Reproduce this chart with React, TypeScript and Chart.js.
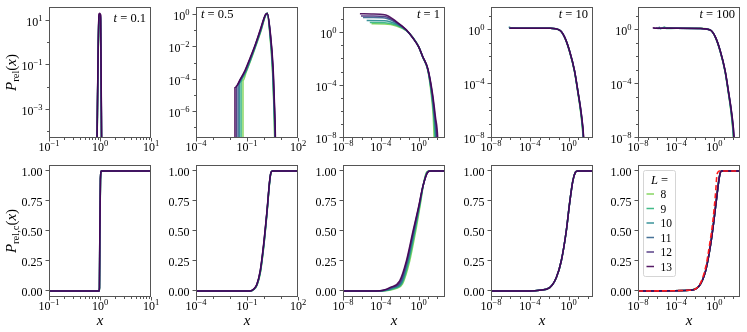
import React, { useEffect, useRef } from 'react';
import { Chart, registerables } from 'chart.js';

Chart.register(...registerables);

// ---------------- data ----------------
const L_VALUES = [8, 9, 10, 11, 12, 13];
const TIME_LABELS = ['0.1', '0.5', '1', '10', '100'];

// P_rel(x), t = 0.1 : [x, y] per L (8..13)
const PDF_T01 = [
  [[0.862, 1e-6], [0.953, 11], [0.975, 13], [1.02, 10.5], [1.078, 1e-6]],
  [[0.86, 1e-6], [0.954, 12.5], [0.975, 14.5], [1.022, 12], [1.08, 1e-6]],
  [[0.859, 1e-6], [0.955, 14], [0.975, 16], [1.024, 13.5], [1.081, 1e-6]],
  [[0.858, 1e-6], [0.955, 16], [0.975, 18], [1.026, 15], [1.082, 1e-6]],
  [[0.857, 1e-6], [0.956, 18], [0.975, 20], [1.028, 17], [1.083, 1e-6]],
  [[0.855, 1e-6], [0.956, 19.5], [0.975, 21.5], [1.03, 18.5], [1.085, 1e-6]],
];
const CDF_T01 = [
  [[0.1, 0], [0.962, 0], [0.977, 0.03], [0.992, 0.42], [1.022, 0.92], [1.062, 1], [10, 1]],
  [[0.1, 0], [0.962, 0], [0.977, 0.03], [0.991, 0.43], [1.021, 0.925], [1.061, 1], [10, 1]],
  [[0.1, 0], [0.961, 0], [0.976, 0.03], [0.991, 0.44], [1.021, 0.93], [1.061, 1], [10, 1]],
  [[0.1, 0], [0.961, 0], [0.976, 0.03], [0.99, 0.44], [1.02, 0.93], [1.06, 1], [10, 1]],
  [[0.1, 0], [0.96, 0], [0.975, 0.03], [0.99, 0.45], [1.02, 0.93], [1.06, 1], [10, 1]],
  [[0.1, 0], [0.96, 0], [0.975, 0.03], [0.99, 0.45], [1.02, 0.93], [1.06, 1], [10, 1]],
];

// t = 0.5
const PDF_T05 = [
  [[0.058, 1e-10], [0.058, 9e-5], [0.09, 3e-4], [0.17, 1.7e-3], [0.325, 0.0115], [0.65, 0.095], [1.24, 0.94], [1.55, 1.3], [2.2, 0.065], [3.06, 6e-4], [3.68, 5.6e-6], [4.2, 3e-8], [4.5, 1e-10]],
  [[0.045, 1e-10], [0.045, 7e-5], [0.05, 1e-4], [0.088, 3.2e-4], [0.166, 1.8e-3], [0.32, 0.012], [0.64, 0.1], [1.23, 0.95], [1.55, 1.28], [2.24, 0.068], [3.13, 6e-4], [3.75, 5.6e-6], [4.3, 3e-8], [4.6, 1e-10]],
  [[0.036, 1e-10], [0.036, 6e-5], [0.045, 1e-4], [0.085, 3.4e-4], [0.162, 1.9e-3], [0.315, 0.0125], [0.63, 0.105], [1.22, 0.96], [1.55, 1.27], [2.27, 0.07], [3.2, 6e-4], [3.82, 5.6e-6], [4.4, 3e-8], [4.7, 1e-10]],
  [[0.03, 1e-10], [0.03, 5e-5], [0.042, 1e-4], [0.082, 3.6e-4], [0.158, 2e-3], [0.31, 0.013], [0.62, 0.11], [1.21, 0.97], [1.56, 1.26], [2.3, 0.073], [3.28, 6e-4], [3.9, 5.6e-6], [4.5, 3e-8], [4.8, 1e-10]],
  [[0.024, 1e-10], [0.024, 4e-5], [0.04, 1e-4], [0.08, 3.8e-4], [0.155, 2.1e-3], [0.305, 0.0135], [0.61, 0.115], [1.2, 0.98], [1.56, 1.25], [2.33, 0.075], [3.35, 6e-4], [3.98, 5.6e-6], [4.6, 3e-8], [4.9, 1e-10]],
  [[0.0195, 1e-10], [0.0195, 3.2e-5], [0.039, 1e-4], [0.078, 4e-4], [0.152, 2.2e-3], [0.3, 0.014], [0.6, 0.12], [1.2, 1.0], [1.57, 1.24], [2.37, 0.077], [3.43, 6e-4], [4.07, 5.6e-6], [4.7, 3e-8], [5.0, 1e-10]],
];
const CDF_T05 = [
  [[1e-4, 0], [0.16, 0], [0.255, 0.013], [0.4, 0.052], [0.625, 0.16], [0.98, 0.375], [1.53, 0.66], [2.18, 0.915], [2.62, 0.99], [3.2, 1], [100, 1]],
  [[1e-4, 0], [0.158, 0], [0.252, 0.013], [0.395, 0.053], [0.62, 0.162], [0.975, 0.378], [1.525, 0.662], [2.175, 0.916], [2.62, 0.99], [3.2, 1], [100, 1]],
  [[1e-4, 0], [0.156, 0], [0.25, 0.013], [0.39, 0.054], [0.615, 0.164], [0.97, 0.381], [1.52, 0.664], [2.17, 0.917], [2.61, 0.99], [3.2, 1], [100, 1]],
  [[1e-4, 0], [0.154, 0], [0.247, 0.014], [0.387, 0.055], [0.61, 0.166], [0.962, 0.384], [1.515, 0.666], [2.165, 0.918], [2.61, 0.99], [3.2, 1], [100, 1]],
  [[1e-4, 0], [0.152, 0], [0.243, 0.014], [0.384, 0.055], [0.605, 0.168], [0.955, 0.387], [1.505, 0.668], [2.155, 0.919], [2.6, 0.99], [3.2, 1], [100, 1]],
  [[1e-4, 0], [0.15, 0], [0.24, 0.014], [0.38, 0.056], [0.6, 0.17], [0.95, 0.39], [1.5, 0.67], [2.15, 0.92], [2.6, 0.99], [3.2, 1], [100, 1]],
];

// t = 1
const PDF_T1 = [
  [[1.05e-5, 5.2], [2.6e-4, 5.05], [4.5e-3, 3.6], [0.051, 1.55], [0.26, 0.46], [1, 0.098], [2.8, 0.0145], [9.5, 1.5e-3], [22, 2.1e-5], [36, 4e-7], [44, 1e-8], [50, 1e-10]],
  [[6.9e-6, 6.6], [2.6e-4, 6.4], [4.5e-3, 4.2], [0.051, 1.6], [0.26, 0.45], [1, 0.097], [2.8, 0.0148], [9.5, 1.6e-3], [24, 2.2e-5], [42, 4e-7], [55, 1e-8], [65, 1e-10]],
  [[3.2e-6, 9.3], [2.6e-4, 9.0], [4.5e-3, 5.0], [0.051, 1.65], [0.26, 0.44], [1, 0.096], [2.8, 0.015], [9.5, 1.7e-3], [25, 2.3e-5], [46, 4e-7], [66, 1e-8], [80, 1e-10]],
  [[1.3e-6, 15.8], [1e-5, 15.6], [2.6e-4, 14.5], [4.5e-3, 6.0], [0.051, 1.7], [0.26, 0.43], [1, 0.095], [2.8, 0.0155], [9.5, 1.8e-3], [27, 2.4e-5], [50, 4e-7], [78, 1e-8], [95, 1e-10]],
  [[8e-7, 21], [1e-5, 20.5], [2.6e-4, 18.5], [4.5e-3, 6.8], [0.051, 1.75], [0.26, 0.42], [1, 0.094], [2.8, 0.016], [9.5, 1.9e-3], [28, 2.5e-5], [55, 4e-7], [90, 1e-8], [110, 1e-10]],
  [[6.2e-7, 30.5], [1e-5, 29], [2.6e-4, 25.6], [4.5e-3, 7.8], [0.051, 1.8], [0.26, 0.41], [1, 0.093], [2.8, 0.016], [9.5, 2e-3], [30, 2.5e-5], [62, 4e-7], [107, 1e-8], [130, 1e-10]],
];
const CDF_T1 = [
  [[1e-8, 0], [1.4e-4, 0], [8e-4, 0.006], [4e-3, 0.02], [2e-2, 0.06], [0.115, 0.25], [0.5, 0.5], [1.6, 0.73], [3.5, 0.9], [7, 0.99], [14, 1], [700, 1]],
  [[1e-8, 0], [1e-4, 0], [5.5e-4, 0.006], [2.8e-3, 0.022], [1.8e-2, 0.065], [0.094, 0.25], [0.42, 0.5], [1.4, 0.72], [3.3, 0.89], [7.8, 0.99], [15, 1], [700, 1]],
  [[1e-8, 0], [7e-5, 0], [3.8e-4, 0.006], [2e-3, 0.024], [1.6e-2, 0.07], [0.077, 0.25], [0.36, 0.5], [1.26, 0.715], [3.1, 0.88], [8.5, 0.99], [17, 1], [700, 1]],
  [[1e-8, 0], [5e-5, 0], [2.8e-4, 0.006], [1.5e-3, 0.026], [1.4e-2, 0.075], [0.066, 0.25], [0.32, 0.5], [1.16, 0.71], [3.0, 0.875], [8.9, 0.99], [18, 1], [700, 1]],
  [[1e-8, 0], [4e-5, 0], [2.2e-4, 0.006], [1.2e-3, 0.028], [1.2e-2, 0.08], [0.058, 0.25], [0.29, 0.5], [1.08, 0.705], [2.9, 0.872], [9.2, 0.99], [19, 1], [700, 1]],
  [[1e-8, 0], [3e-5, 0], [1.8e-4, 0.006], [1e-3, 0.03], [1e-2, 0.084], [0.051, 0.25], [0.26, 0.5], [1, 0.7], [2.8, 0.87], [9.5, 0.99], [20, 1], [700, 1]],
];

// t = 10
const PDF_T10 = [
  [[9e-7, 1.75], [1.2e-6, 1.5], [1e-5, 1.47], [1e-3, 1.46], [0.011, 1.44], [0.11, 1.06], [0.36, 0.33], [1.17, 0.03], [3.8, 1e-3], [8.3, 3e-5], [18, 6e-7], [30, 1e-8], [38, 1e-10]],
  [[8.5e-7, 1.6], [1.1e-6, 1.48], [1e-5, 1.47], [1e-3, 1.46], [0.011, 1.44], [0.112, 1.06], [0.37, 0.33], [1.19, 0.03], [3.85, 1e-3], [8.5, 3e-5], [18.5, 6e-7], [31, 1e-8], [40, 1e-10]],
  [[7e-7, 1.95], [9e-7, 1.55], [1e-5, 1.48], [1e-3, 1.47], [0.011, 1.45], [0.113, 1.05], [0.37, 0.32], [1.2, 0.03], [3.9, 1e-3], [8.6, 3e-5], [19, 6e-7], [32, 1e-8], [41, 1e-10]],
  [[8e-7, 1.55], [1e-5, 1.48], [1e-3, 1.47], [0.011, 1.45], [0.114, 1.05], [0.375, 0.32], [1.21, 0.03], [3.95, 1e-3], [8.7, 3e-5], [19.5, 6e-7], [33, 1e-8], [43, 1e-10]],
  [[8e-7, 1.5], [1e-5, 1.48], [1e-3, 1.47], [0.011, 1.45], [0.115, 1.05], [0.38, 0.32], [1.22, 0.03], [4, 1e-3], [8.8, 3e-5], [20, 6e-7], [34, 1e-8], [44, 1e-10]],
  [[7.9e-7, 1.5], [1e-5, 1.48], [1e-3, 1.47], [0.011, 1.45], [0.115, 1.05], [0.38, 0.32], [1.23, 0.03], [4, 1e-3], [8.9, 3e-5], [20, 6e-7], [35, 1e-8], [45, 1e-10]],
];
const CDF_T10 = [
  [[1e-8, 0], [1e-4, 0.0005], [1e-3, 0.006], [0.011, 0.028], [0.053, 0.11], [0.172, 0.25], [0.565, 0.5], [1.22, 0.73], [2.65, 0.92], [4.9, 0.99], [8, 1], [400, 1]],
  [[1e-8, 0], [1e-4, 0.0005], [1e-3, 0.006], [0.011, 0.028], [0.053, 0.11], [0.171, 0.25], [0.563, 0.5], [1.225, 0.73], [2.66, 0.92], [4.92, 0.99], [8, 1], [400, 1]],
  [[1e-8, 0], [1e-4, 0.0005], [1e-3, 0.006], [0.011, 0.028], [0.052, 0.11], [0.171, 0.25], [0.562, 0.5], [1.228, 0.73], [2.68, 0.92], [4.95, 0.99], [8, 1], [400, 1]],
  [[1e-8, 0], [1e-4, 0.0005], [1e-3, 0.006], [0.011, 0.028], [0.052, 0.11], [0.17, 0.25], [0.561, 0.5], [1.23, 0.73], [2.69, 0.92], [4.97, 0.99], [8, 1], [400, 1]],
  [[1e-8, 0], [1e-4, 0.0005], [1e-3, 0.006], [0.011, 0.028], [0.052, 0.11], [0.17, 0.25], [0.56, 0.5], [1.23, 0.73], [2.7, 0.92], [5, 0.99], [8, 1], [400, 1]],
  [[1e-8, 0], [1e-4, 0.0005], [1e-3, 0.006], [0.011, 0.028], [0.052, 0.11], [0.17, 0.25], [0.56, 0.5], [1.23, 0.73], [2.7, 0.92], [5, 0.99], [8, 1], [400, 1]],
];

// t = 100
const PDF_T100 = [
  [[1e-5, 1.7], [1.5e-5, 1.45], [2.5e-5, 1.6], [1e-4, 1.47], [0.035, 1.44], [0.4, 1.05], [1.28, 0.32], [4.05, 0.03], [13, 1e-3], [28.5, 3e-5], [60, 6e-7], [102, 1e-8], [136, 1e-10]],
  [[4e-6, 1.6], [6e-6, 1.85], [9e-6, 1.4], [1e-4, 1.46], [0.035, 1.43], [0.4, 1.05], [1.29, 0.32], [4.1, 0.03], [13.2, 1e-3], [29, 3e-5], [62, 6e-7], [106, 1e-8], [140, 1e-10]],
  [[1.5e-6, 1.9], [2.2e-6, 1.35], [3.5e-6, 1.55], [1e-4, 1.46], [0.035, 1.43], [0.4, 1.05], [1.3, 0.32], [4.15, 0.03], [13.4, 1e-3], [29.5, 3e-5], [64, 6e-7], [110, 1e-8], [144, 1e-10]],
  [[8e-7, 1.65], [1.2e-6, 1.4], [2e-6, 1.5], [1e-4, 1.45], [0.035, 1.43], [0.4, 1.05], [1.31, 0.32], [4.2, 0.03], [13.6, 1e-3], [30, 3e-5], [66, 6e-7], [114, 1e-8], [148, 1e-10]],
  [[4e-7, 1.5], [1e-6, 1.46], [1e-4, 1.45], [0.035, 1.43], [0.4, 1.05], [1.32, 0.32], [4.25, 0.03], [13.8, 1e-3], [30.5, 3e-5], [68, 6e-7], [118, 1e-8], [152, 1e-10]],
  [[3.5e-7, 1.6], [1e-6, 1.45], [1e-4, 1.45], [0.035, 1.43], [0.4, 1.05], [1.33, 0.32], [4.3, 0.03], [14, 1e-3], [31, 3e-5], [70, 6e-7], [122, 1e-8], [158, 1e-10]],
];
const CDF_T100 = [
  [[1e-8, 0], [2.3e-3, 0.006], [0.025, 0.041], [0.126, 0.172], [0.42, 0.392], [0.92, 0.592], [1.98, 0.812], [3.55, 0.96], [5.8, 1], [600, 1]],
  [[1e-8, 0], [2.3e-3, 0.006], [0.025, 0.041], [0.126, 0.171], [0.42, 0.391], [0.925, 0.591], [1.99, 0.811], [3.57, 0.96], [5.85, 1], [600, 1]],
  [[1e-8, 0], [2.3e-3, 0.006], [0.025, 0.04], [0.126, 0.17], [0.42, 0.39], [0.93, 0.59], [2.0, 0.81], [3.6, 0.96], [5.9, 1], [600, 1]],
  [[1e-8, 0], [2.3e-3, 0.006], [0.025, 0.04], [0.126, 0.17], [0.42, 0.39], [0.93, 0.59], [2.0, 0.81], [3.6, 0.96], [5.9, 1], [600, 1]],
  [[1e-8, 0], [2.3e-3, 0.006], [0.025, 0.04], [0.126, 0.17], [0.42, 0.39], [0.93, 0.59], [2.0, 0.81], [3.6, 0.96], [5.9, 1], [600, 1]],
  [[1e-8, 0], [2.3e-3, 0.006], [0.025, 0.04], [0.126, 0.17], [0.42, 0.39], [0.93, 0.59], [2.0, 0.81], [3.6, 0.96], [5.9, 1], [600, 1]],
];
// red dashed reference curve (t = 100)
const CDF_T100_FIT = [[1e-8, 0], [2.3e-3, 0.006], [0.025, 0.045], [0.126, 0.2], [0.33, 0.39], [0.71, 0.58], [1.35, 0.81], [2.0, 0.975], [3.6, 1], [600, 1]];

// axis ranges and ticks
const X_RANGES = [[0.1, 10], [1e-4, 1e2], [1e-8, 631], [1e-8, 316], [1e-8, 500]];
const Y_RANGES_PDF = [[5.5e-5, 41], [2.5e-8, 3.1], [1e-8, 100], [1e-8, 56], [1e-8, 56]];
const Y_RANGE_CDF = [-0.05, 1.05];
const X_MAJOR_EXP = [[-1, 0, 1], [-4, -1, 2], [-8, -4, 0], [-8, -4, 0], [-8, -4, 0]];
const X_MINOR = [
  [0.2, 0.3, 0.4, 0.5, 0.6, 0.7, 0.8, 0.9, 2, 3, 4, 5, 6, 7, 8, 9],
  [1e-3, 1e-2, 1, 10],
  [1e-7, 1e-6, 1e-5, 1e-3, 1e-2, 1e-1, 10, 100],
  [1e-7, 1e-6, 1e-5, 1e-3, 1e-2, 1e-1, 10, 100],
  [1e-7, 1e-6, 1e-5, 1e-3, 1e-2, 1e-1, 10, 100],
];
const Y_MAJOR_EXP = [[1, -1, -3], [0, -2, -4, -6], [0, -4, -8], [0, -4, -8], [0, -4, -8]];
const Y_MINOR = [
  [1, 1e-2, 1e-4],
  [1e-1, 1e-3, 1e-5, 1e-7],
  [100, 10, 1e-1, 1e-2, 1e-3, 1e-5, 1e-6, 1e-7],
  [10, 1e-1, 1e-2, 1e-3, 1e-5, 1e-6, 1e-7],
  [10, 1e-1, 1e-2, 1e-3, 1e-5, 1e-6, 1e-7],
];
const CDF_TICKS = [0, 0.25, 0.5, 0.75, 1.0];

const PDF_DATA = [PDF_T01, PDF_T05, PDF_T1, PDF_T10, PDF_T100];
const CDF_DATA = [CDF_T01, CDF_T05, CDF_T1, CDF_T10, CDF_T100];

// ---------------- style / layout ----------------
const W = 747;
const H = 332;
const COL_LEFT = [49, 196, 343, 491, 638];
const PLOT_W = 102;
const ROW_TOP = [7, 165];
const ROW_H = [131, 132];
const FONT = '"Liberation Serif", "Times New Roman", "DejaVu Serif", serif';
const AXIS_COLOR = '#555';
const L_COLORS = [
  'rgba(122,209,81,0.9)',
  'rgba(47,180,124,0.9)',
  'rgba(36,135,142,0.9)',
  'rgba(51,99,141,0.9)',
  'rgba(71,45,123,0.9)',
  'rgba(68,1,84,0.9)',
];
const TITLE_POS = [
  { align: 'right', y: 22 },
  { align: 'left', y: 18 },
  { align: 'right', y: 18 },
  { align: 'right', y: 18 },
  { align: 'right', y: 18 },
];

type Piece = { t: string; f: string; dy?: number };

function drawPieces(ctx: CanvasRenderingContext2D, pieces: Piece[], x: number, y: number, align: string) {
  let total = 0;
  const widths = pieces.map((p) => {
    ctx.font = p.f;
    const w = ctx.measureText(p.t).width;
    total += w;
    return w;
  });
  let cx = align === 'center' ? x - total / 2 : align === 'right' ? x - total : x;
  ctx.textAlign = 'left';
  ctx.textBaseline = 'alphabetic';
  pieces.forEach((p, i) => {
    ctx.font = p.f;
    ctx.fillText(p.t, cx, y + (p.dy || 0));
    cx += widths[i];
  });
}

function powPieces(e: number): Piece[] {
  const s = e < 0 ? '\u2212' + Math.abs(e) : String(e);
  return [
    { t: '10', f: `12px ${FONT}` },
    { t: s, f: `8.5px ${FONT}`, dy: -5 },
  ];
}

type PanelSpec = {
  col: number;
  row: number;
};

function makeDeco(spec: PanelSpec) {
  const { col, row } = spec;
  return {
    id: `deco_${row}_${col}`,
    afterDraw(chart: any) {
      const ctx: CanvasRenderingContext2D = chart.ctx;
      const xs = chart.scales.x;
      const ys = chart.scales.y;
      const { left, top, right, bottom } = chart.chartArea;
      ctx.save();
      ctx.strokeStyle = AXIS_COLOR;
      ctx.lineWidth = 1;
      ctx.strokeRect(left + 0.5, top + 0.5, right - left - 1, bottom - top - 1);
      const line = (x1: number, y1: number, x2: number, y2: number) => {
        ctx.beginPath();
        ctx.moveTo(x1, y1);
        ctx.lineTo(x2, y2);
        ctx.stroke();
      };
      // x ticks
      X_MAJOR_EXP[col].forEach((e) => {
        const px = Math.round(xs.getPixelForValue(Math.pow(10, e))) + 0.5;
        line(px, bottom, px, bottom + 3.5);
      });
      X_MINOR[col].forEach((v) => {
        const px = Math.round(xs.getPixelForValue(v)) + 0.5;
        line(px, bottom, px, bottom + 2);
      });
      // y ticks
      if (row === 0) {
        Y_MAJOR_EXP[col].forEach((e) => {
          const py = Math.round(ys.getPixelForValue(Math.pow(10, e))) - 0.5;
          line(left, py, left - 3.5, py);
        });
        Y_MINOR[col].forEach((v) => {
          const py = Math.round(ys.getPixelForValue(v)) - 0.5;
          if (py > top && py < bottom) line(left, py, left - 2, py);
        });
      } else {
        CDF_TICKS.forEach((v) => {
          const py = Math.round(ys.getPixelForValue(v)) - 0.5;
          line(left, py, left - 3.5, py);
        });
      }
      ctx.fillStyle = '#000';
      // x tick labels
      X_MAJOR_EXP[col].forEach((e) => {
        const px = xs.getPixelForValue(Math.pow(10, e));
        drawPieces(ctx, powPieces(e), px, bottom + 13, 'center');
      });
      // y tick labels
      if (row === 0) {
        Y_MAJOR_EXP[col].forEach((e) => {
          const py = ys.getPixelForValue(Math.pow(10, e));
          drawPieces(ctx, powPieces(e), left - 6.5, py + 5, 'right');
        });
        // title
        const tp = TITLE_POS[col];
        const pieces: Piece[] = [
          { t: 't', f: `italic 12.5px ${FONT}` },
          { t: ' = ' + TIME_LABELS[col], f: `12.5px ${FONT}` },
        ];
        if (tp.align === 'right') drawPieces(ctx, pieces, right - 5, tp.y, 'right');
        else drawPieces(ctx, pieces, left + 5, tp.y, 'left');
      } else {
        CDF_TICKS.forEach((v) => {
          const py = ys.getPixelForValue(v);
          drawPieces(ctx, [{ t: v.toFixed(2), f: `12px ${FONT}` }], left - 6.5, py + 4.5, 'right');
        });
        // x label
        drawPieces(ctx, [{ t: 'x', f: `italic 15px ${FONT}` }], (left + right) / 2, 325, 'center');
      }
      // y axis label
      if (col === 0) {
        const sub = row === 0 ? 'rel' : 'rel,c';
        ctx.save();
        ctx.translate(16, (top + bottom) / 2);
        ctx.rotate(-Math.PI / 2);
        drawPieces(
          ctx,
          [
            { t: 'P', f: `italic 15px ${FONT}` },
            { t: sub, f: `10.5px ${FONT}`, dy: 3 },
            { t: '(', f: `15px ${FONT}` },
            { t: 'x', f: `italic 15px ${FONT}` },
            { t: ')', f: `15px ${FONT}` },
          ],
          0,
          0,
          'center'
        );
        ctx.restore();
      }
      // legend
      if (row === 1 && col === 4) {
        const bx = left + 5.5;
        const by = top + 5.5;
        const bw = 32;
        const bh = 106;
        ctx.fillStyle = 'rgba(255,255,255,0.85)';
        ctx.strokeStyle = '#d5d5d5';
        ctx.lineWidth = 1;
        ctx.beginPath();
        (ctx as any).roundRect ? (ctx as any).roundRect(bx, by, bw, bh, 2) : ctx.rect(bx, by, bw, bh);
        ctx.fill();
        ctx.stroke();
        ctx.fillStyle = '#000';
        drawPieces(
          ctx,
          [
            { t: 'L', f: `italic 12.5px ${FONT}` },
            { t: ' =', f: `12.5px ${FONT}` },
          ],
          bx + bw / 2,
          by + 13,
          'center'
        );
        L_VALUES.forEach((L, i) => {
          const yy = by + 23.5 + i * 14.5;
          ctx.strokeStyle = L_COLORS[i];
          ctx.lineWidth = 1.5;
          line(bx + 3, yy, bx + 10.5, yy);
          ctx.fillStyle = '#000';
          drawPieces(ctx, [{ t: String(L), f: `11.5px ${FONT}` }], bx + 17, yy + 4, 'left');
        });
      }
      ctx.restore();
    },
  };
}

function toXY(arr: number[][]) {
  return arr.map((p) => ({ x: p[0], y: p[1] }));
}

function buildConfig(row: number, col: number): any {
  const left = COL_LEFT[col];
  const top = ROW_TOP[row];
  const h = ROW_H[row];
  const series = row === 0 ? PDF_DATA[col] : CDF_DATA[col];
  const datasets: any[] = series.map((s, i) => ({
    label: `L = ${L_VALUES[i]}`,
    data: toXY(s),
    borderColor: L_COLORS[i],
    backgroundColor: L_COLORS[i],
    borderWidth: 1.5,
    pointRadius: 0,
    fill: false,
    cubicInterpolationMode: 'monotone',
    order: L_VALUES.length - i,
  }));
  if (row === 1 && col === 4) {
    datasets.push({
      label: 'fit',
      data: toXY(CDF_T100_FIT),
      borderColor: '#ff1a1a',
      backgroundColor: '#ff1a1a',
      borderWidth: 1.6,
      borderDash: [5, 3],
      pointRadius: 0,
      fill: false,
      cubicInterpolationMode: 'monotone',
      order: 0,
    });
  }
  const yr = row === 0 ? Y_RANGES_PDF[col] : Y_RANGE_CDF;
  return {
    type: 'line',
    data: { datasets },
    options: {
      animation: false,
      responsive: false,
      devicePixelRatio: 1,
      events: [],
      layout: {
        padding: { left, top, right: W - left - PLOT_W, bottom: H - top - h },
      },
      scales: {
        x: { type: 'logarithmic', min: X_RANGES[col][0], max: X_RANGES[col][1], display: false },
        y: { type: row === 0 ? 'logarithmic' : 'linear', min: yr[0], max: yr[1], display: false },
      },
      plugins: { legend: { display: false }, tooltip: { enabled: false } },
    },
    plugins: [makeDeco({ row, col })],
  };
}

const PANELS: { row: number; col: number }[] = [];
for (let r = 0; r < 2; r++) for (let c = 0; c < 5; c++) PANELS.push({ row: r, col: c });

export default function App() {
  const refs = useRef<(HTMLCanvasElement | null)[]>([]);
  useEffect(() => {
    const charts = PANELS.map((p, i) => new Chart(refs.current[i] as HTMLCanvasElement, buildConfig(p.row, p.col)));
    return () => charts.forEach((c) => c.destroy());
  }, []);
  return (
    <div style={{ position: 'absolute', left: 0, top: 0, width: W, height: H, background: '#fff', overflow: 'hidden' }}>
      {PANELS.map((p, i) => (
        <canvas
          key={i}
          ref={(el) => {
            refs.current[i] = el;
          }}
          width={W}
          height={H}
          style={{ position: 'absolute', left: 0, top: 0, width: W, height: H }}
        />
      ))}
    </div>
  );
}
